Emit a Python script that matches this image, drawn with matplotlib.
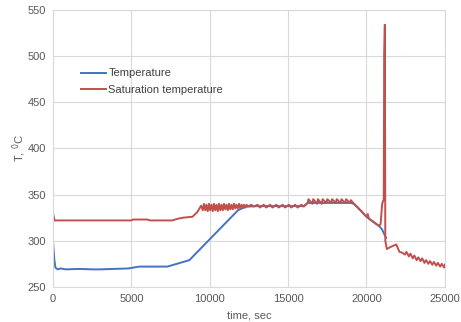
import matplotlib
matplotlib.use("Agg")
import matplotlib.pyplot as plt

plt.rcParams["font.family"] = ["Liberation Sans", "DejaVu Sans"]

# Temperature (blue): (time, sec; T, C)
temp_points = [
    (0, 299), (80, 280), (150, 271), (300, 269), (500, 270), (800, 269),
    (1700, 269.5), (2500, 269), (3000, 269), (4800, 270), (5500, 272),
    (7300, 272), (8100, 276), (8700, 279), (11800, 333), (12050, 335),
    (12350, 337), (13000, 337.5), (14000, 337.5), (15000, 337.5),
    (16000, 337.5), (16250, 341), (19000, 341), (19200, 340), (19500, 335),
    (20000, 326), (20150, 324), (20800, 316), (21000, 312), (21250, 303),
]

# Saturation temperature (red)
sat_points = [
    (0, 330), (100, 322), (5000, 322), (5100, 323), (6000, 323), (6200, 322),
    (7600, 322), (8000, 324), (8300, 325), (8900, 326), (9200, 331), (9450, 338),
    # oscillating section
    (9550, 333), (9630, 340), (9710, 333), (9790, 339), (9870, 332),
    (9950, 340), (10030, 333), (10110, 339), (10190, 332), (10270, 340),
    (10350, 333), (10430, 339), (10510, 332), (10590, 340), (10670, 333),
    (10750, 339), (10830, 333), (10910, 340), (10990, 334), (11070, 339),
    (11150, 333), (11230, 340), (11310, 334), (11390, 339), (11470, 334),
    (11550, 340), (11630, 335), (11710, 339), (11790, 335), (11870, 340),
    (11950, 335), (12030, 339), (12110, 336), (12190, 339), (12270, 336),
    (12350, 339), (12430, 337),
    # plateau
    (12650, 339), (12800, 337), (13050, 339), (13200, 336), (13450, 339),
    (13600, 336), (13850, 339), (14000, 336), (14250, 339), (14400, 336),
    (14650, 339), (14800, 336), (15050, 339), (15200, 336), (15450, 339),
    (15600, 336), (15850, 339), (16000, 337),
    # spiky part
    (16250, 341), (16300, 345), (16550, 340), (16600, 345), (16850, 340),
    (16900, 345), (17150, 340), (17200, 345), (17450, 341), (17500, 345),
    (17750, 341), (17800, 345), (18050, 341), (18100, 345), (18350, 341),
    (18400, 345), (18650, 341), (18700, 345), (18950, 341), (19000, 344),
    # decline and spike
    (19200, 340), (19500, 335), (20000, 326), (20080, 329), (20150, 324),
    (20800, 316), (20900, 318), (21000, 340), (21100, 345), (21130, 500),
    (21170, 534), (21200, 300), (21300, 291), (21500, 293), (21900, 296),
    (22100, 288), (22300, 287),
    # decaying tail
    (22450, 285), (22550, 288), (22700, 283), (22800, 286), (22950, 281),
    (23050, 284), (23200, 279), (23300, 282), (23450, 278), (23550, 281),
    (23700, 276), (23800, 279), (23950, 275), (24050, 278), (24200, 274),
    (24300, 277), (24450, 273), (24550, 276), (24700, 272), (24800, 275),
    (24950, 271), (25000, 274),
]

temp_t, temp_v = zip(*temp_points)
sat_t, sat_v = zip(*sat_points)

fig = plt.figure(figsize=(4.61, 3.22), dpi=100)
ax = fig.add_axes([0.115, 0.109, 0.85, 0.86])

ax.plot(temp_t, temp_v, color="#4472C4", lw=1.4, label="Temperature")
ax.plot(sat_t, sat_v, color="#C0504D", lw=1.4, label="Saturation temperature")

ax.set_xlim(0, 25000)
ax.set_ylim(250, 550)
ax.set_xticks(range(0, 25001, 5000))
ax.set_yticks(range(250, 551, 50))
ax.grid(color="#d9d9d9", lw=0.8)
ax.set_axisbelow(True)
for s in ax.spines.values():
    s.set_color("#d9d9d9")
    s.set_linewidth(0.8)
ax.tick_params(length=0, labelsize=8, colors="#595959", pad=5)

ax.set_xlabel("time, sec", fontsize=8, color="#595959", labelpad=5)
ax.set_ylabel("T, $^{0}$C", fontsize=8, color="#595959", labelpad=0)

ax.legend(loc="upper left", bbox_to_anchor=(0.045, 0.825), frameon=False,
          fontsize=8, handlelength=2.3, handletextpad=0.2,
          labelspacing=0.6, labelcolor="#404040")

fig.savefig("out.png", dpi=100)
